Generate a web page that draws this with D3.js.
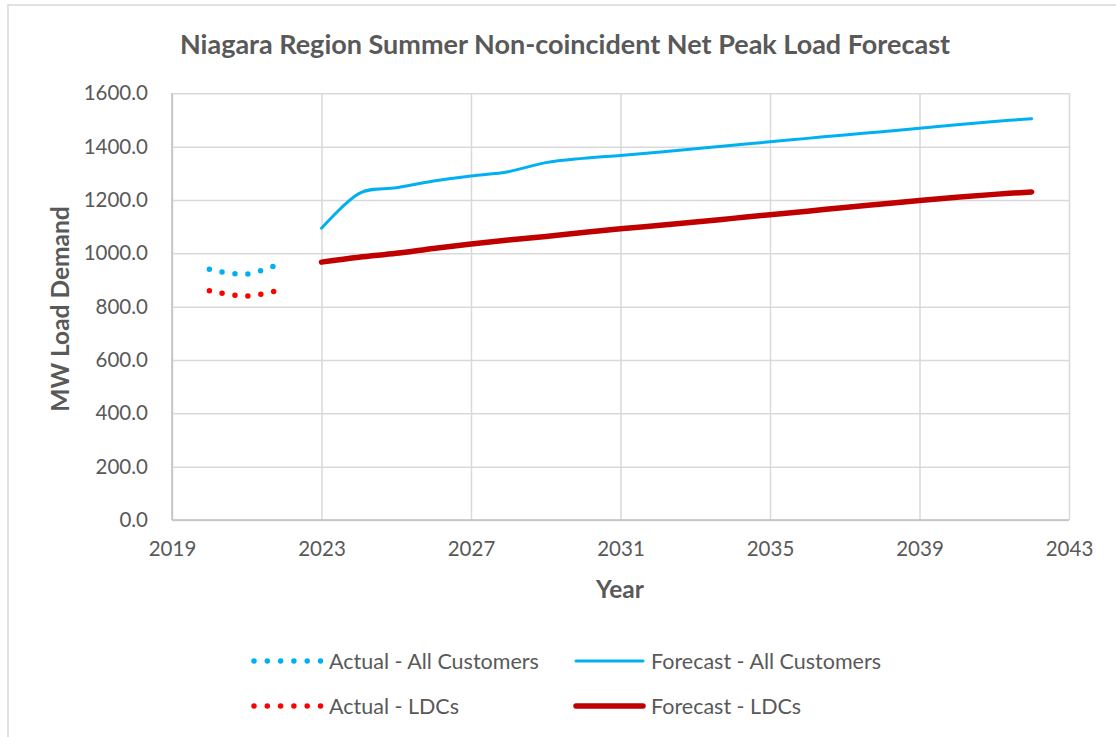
<!DOCTYPE html>
<html>
<head>
<meta charset="utf-8">
<script src="https://cdn.jsdelivr.net/npm/d3@7"></script>
<style>
  html, body { margin: 0; padding: 0; background: #fff; }
  svg { display: block; }
  text { font-family: Lato, "Open Sans", sans-serif; fill: #595959; }
</style>
</head>
<body>
<svg id="chart" width="1116" height="737"></svg>
<script>
// Historical summer peaks (MW)
const actualYears = [2020, 2021, 2022];
const actualAll = [940, 922, 968];
const actualLDC = [860, 840, 866];

// Forecast summer peaks (MW)
const forecastYears = [2023, 2024, 2025, 2026, 2027, 2028, 2029, 2030, 2031, 2032,
                       2033, 2034, 2035, 2036, 2037, 2038, 2039, 2040, 2041, 2042];
const forecastAll = [1094, 1224, 1246, 1271, 1290, 1306, 1340, 1356, 1367, 1379,
                     1392, 1405, 1418, 1431, 1444, 1456, 1469, 1482, 1494, 1505];
const forecastLDC = [967, 985, 1000, 1018, 1035, 1050, 1063, 1078, 1092, 1104,
                     1117, 1131, 1145, 1158, 1172, 1185, 1198, 1210, 1221, 1230];

const xTicks = [2019, 2023, 2027, 2031, 2035, 2039, 2043];
const yTicks = [0, 200, 400, 600, 800, 1000, 1200, 1400, 1600];

const seriesNames = ["Actual - All Customers", "Forecast - All Customers",
                     "Actual - LDCs", "Forecast - LDCs"];

const svg = d3.select("#chart");

// chart area frame
svg.append("rect")
  .attr("x", 8).attr("y", 5).attr("width", 1130).attr("height", 760)
  .attr("fill", "#fff").attr("stroke", "#D9D9D9").attr("stroke-width", 1.5);

const x = d3.scaleLinear().domain([2019, 2043]).range([172, 1069]);
const y = d3.scaleLinear().domain([0, 1600]).range([520, 93.3]);

// gridlines
const gx = svg.append("g").attr("transform", `translate(0,${y(0)})`)
  .call(d3.axisBottom(x).tickValues(xTicks).tickSize(-(y(0) - y(1600))).tickFormat(""));
gx.select(".domain").remove();
gx.selectAll("line").attr("stroke", "#D9D9D9").attr("stroke-width", 1.5);

const gy = svg.append("g").attr("transform", `translate(${x(2019)},0)`)
  .call(d3.axisLeft(y).tickValues(yTicks).tickSize(-(x(2043) - x(2019))).tickFormat(""));
gy.select(".domain").remove();
gy.selectAll("line").attr("stroke", "#D9D9D9").attr("stroke-width", 1.5);

// axis lines
svg.append("line").attr("x1", x(2019)).attr("x2", x(2043)).attr("y1", y(0)).attr("y2", y(0))
  .attr("stroke", "#BFBFBF").attr("stroke-width", 1.5);
svg.append("line").attr("x1", x(2019)).attr("x2", x(2019)).attr("y1", y(0)).attr("y2", y(1600))
  .attr("stroke", "#BFBFBF").attr("stroke-width", 1.5);

// tick labels
const ay = svg.append("g").attr("transform", `translate(${x(2019)},0)`)
  .call(d3.axisLeft(y).tickValues(yTicks).tickSize(0).tickPadding(24).tickFormat(d3.format(".1f")));
ay.select(".domain").remove();
ay.selectAll("text").attr("font-size", 20.5).attr("fill", "#595959")
  .attr("font-family", "Lato, sans-serif");

const ax = svg.append("g").attr("transform", `translate(0,${y(0)})`)
  .call(d3.axisBottom(x).tickValues(xTicks).tickSize(0).tickPadding(21).tickFormat(d3.format("d")));
ax.select(".domain").remove();
ax.selectAll("text").attr("font-size", 20.5).attr("fill", "#595959")
  .attr("font-family", "Lato, sans-serif");

// titles
svg.append("text").attr("x", 565).attr("y", 54).attr("text-anchor", "middle")
  .attr("font-size", 27).attr("font-weight", "bold")
  .text("Niagara Region Summer Non-coincident Net Peak Load Forecast");

svg.append("text").attr("x", 620).attr("y", 598).attr("text-anchor", "middle")
  .attr("font-size", 24.5).attr("font-weight", "bold").text("Year");

svg.append("text").attr("transform", "translate(69,309) rotate(-90)")
  .attr("text-anchor", "middle").attr("font-size", 24.5).attr("font-weight", "bold")
  .text("MW Load Demand");

// series
const line = d3.line().x(d => x(d[0])).y(d => y(d[1])).curve(d3.curveCardinal.tension(0));
const zip = (xs, ys) => xs.map((v, i) => [v, ys[i]]);

const plot = svg.append("g");
plot.append("path").datum(zip(actualYears, actualAll)).attr("d", line)
  .attr("fill", "none").attr("stroke", "#00B0F0").attr("stroke-width", 5.5)
  .attr("stroke-linecap", "round").attr("stroke-dasharray", "0,13");
plot.append("path").datum(zip(actualYears, actualLDC)).attr("d", line)
  .attr("fill", "none").attr("stroke", "#FF0000").attr("stroke-width", 5.5)
  .attr("stroke-linecap", "round").attr("stroke-dasharray", "0,13");
plot.append("path").datum(zip(forecastYears, forecastAll)).attr("d", line)
  .attr("fill", "none").attr("stroke", "#00B0F0").attr("stroke-width", 3)
  .attr("stroke-linecap", "round");
plot.append("path").datum(zip(forecastYears, forecastLDC)).attr("d", line)
  .attr("fill", "none").attr("stroke", "#C00000").attr("stroke-width", 5.5)
  .attr("stroke-linecap", "round");

// legend
const legendItems = [
  { name: seriesNames[0], x: 254, y: 661, color: "#00B0F0", w: 5.5, dash: "0,13.3" },
  { name: seriesNames[1], x: 576, y: 661, color: "#00B0F0", w: 3, dash: null },
  { name: seriesNames[2], x: 254, y: 706, color: "#FF0000", w: 5.5, dash: "0,13.3" },
  { name: seriesNames[3], x: 576, y: 706, color: "#C00000", w: 5.5, dash: null }
];
const lg = svg.append("g").selectAll("g").data(legendItems).join("g")
  .attr("transform", d => `translate(${d.x},${d.y})`);
lg.append("line").attr("x1", 0).attr("x2", 67).attr("y1", 0).attr("y2", 0)
  .attr("stroke", d => d.color).attr("stroke-width", d => d.w)
  .attr("stroke-linecap", "round").attr("stroke-dasharray", d => d.dash);
lg.append("text").attr("x", 75).attr("y", 7.5).attr("font-size", 21.5)
  .text(d => d.name);
</script>
</body>
</html>
